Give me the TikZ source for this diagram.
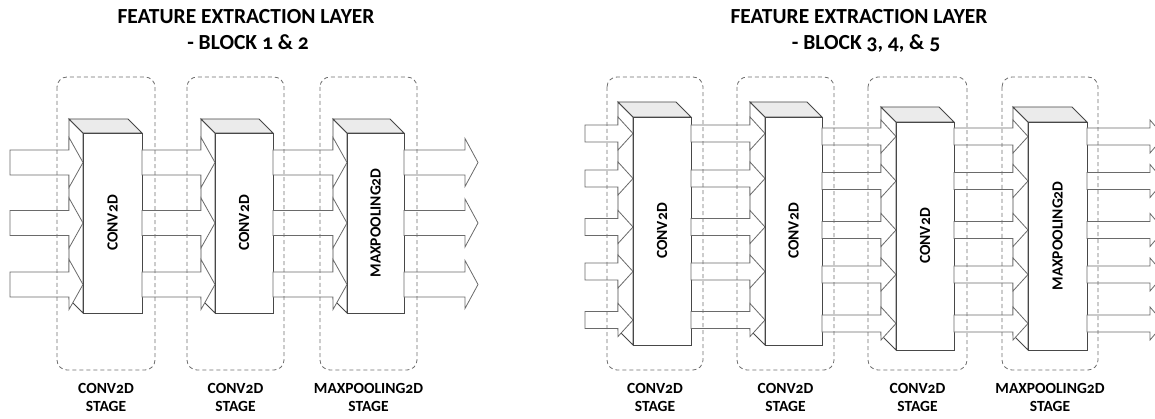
\documentclass[tikz,border=0pt]{standalone}
\usepackage{fontspec}
\setmainfont{Carlito}[Numbers=OldStyle]
\definecolor{edgegray}{HTML}{474747}
\definecolor{arrowgray}{HTML}{6A6A6A}
\definecolor{dashgray}{HTML}{6E6E6E}
\definecolor{topgray}{HTML}{EBEBEB}
\tikzset{
  blockedge/.style={draw=edgegray, line width=0.9pt, line join=miter},
  arrowline/.style={draw=arrowgray, fill=white, line width=0.8pt, line join=miter},
  stagebox/.style={draw=dashgray, dash pattern=on 4pt off 3pt, rounded corners=10pt, line width=0.8pt},
  blocklabel/.style={font=\bfseries\fontsize{15.5}{18}\selectfont, rotate=90, inner sep=0pt},
  stagelabel/.style={font=\bfseries\fontsize{15.5}{18.5}\selectfont, align=center, anchor=north, inner sep=0pt},
  titletext/.style={font=\bfseries\fontsize{21.5}{26}\selectfont, anchor=base, inner sep=0pt},
}
% back faces of a block: #1 front left x, #2 front right x, #3 top y, #4 bottom y, #5 depth
\newcommand\blockback[5]{%
  \draw[blockedge, fill=white] (#1-#5,#3-#5) -- (#1,#3) -- (#1,#4) -- (#1-#5,#4-#5) -- cycle;
  \draw[blockedge, fill=topgray] (#1-#5,#3-#5) -- (#2-#5,#3-#5) -- (#2,#3) -- (#1,#3) -- cycle;
}
% front face with its rotated label: #1..#4 as above, #5 text, #6 node name
\newcommand\blockfront[6]{%
  \draw[blockedge, fill=white] (#1,#3) rectangle (#2,#4);
  \node[blocklabel] (#6) at ({(#1+#2)/2},{(#3+#4)/2}) {#5};
}
% block arrow: #1 tail x, #2 head base x, #3 tip x, #4 centre y, #5 shaft half height, #6 head half height
\newcommand\flowarrow[6]{%
  \draw[arrowline] (#1,#4-#5) -- (#2,#4-#5) -- (#2,#4-#6) -- (#3,#4)
    -- (#2,#4+#6) -- (#2,#4+#5) -- (#1,#4+#5) -- cycle;
}
\begin{document}
\begin{tikzpicture}[x=1pt,y=-1pt]
\useasboundingbox (0,0) rectangle (1155,419);
\clip (0,0) rectangle (1155,419);

% ---------------- Block 1 & 2 ----------------
\node[titletext] (lt1) at (246,24) {FEATURE EXTRACTION LAYER};
\node[titletext] (lt2) at (248,50) {- BLOCK 1 \& 2};

\blockback{83}{142}{133}{313}{14}
\foreach \c in {162.5,223,284.5} {\flowarrow{10}{69}{83}{\c}{12.5}{25}}
\blockfront{83}{142}{133}{313}{CONV2D}{la}

\blockback{215}{273}{133}{313}{14}
\foreach \c in {162.5,223,284.5} {\flowarrow{142}{201}{215}{\c}{12.5}{25}}
\blockfront{215}{273}{133}{313}{CONV2D}{lb}

\blockback{347}{404}{133}{313}{14}
\foreach \c in {162.5,223,284.5} {\flowarrow{273}{333}{347}{\c}{12.5}{25}}
\blockfront{347}{404}{133}{313}{MAXPOOLING2D}{lc}

\foreach \c in {162.5,223,284.5} {\flowarrow{404}{465}{478}{\c}{12.5}{24}}

\draw[stagebox] (57,77) rectangle (155,370);
\draw[stagebox] (187,77) rectangle (284,370);
\draw[stagebox] (320,77) rectangle (417,370);

\node[stagelabel] (ls1) at (106,383) {CONV2D\\STAGE};
\node[stagelabel] (ls2) at (235.5,383) {CONV2D\\STAGE};
\node[stagelabel] (ls3) at (368.5,383) {MAXPOOLING2D\\STAGE};

% ---------------- Block 3, 4 & 5 ----------------
\node[titletext] (rt1) at (859,24) {FEATURE EXTRACTION LAYER};
\node[titletext] (rt2) at (866,50) {- BLOCK 3, 4, \& 5};

\blockback{633}{691}{117}{345}{15}
\foreach \c in {133.5,178.5,227,271.5,320} {\flowarrow{585}{618}{633}{\c}{8.5}{16.5}}
\blockfront{633}{691}{117}{345}{CONV2D}{ra}

\blockback{765}{822}{117}{345}{15}
\foreach \c in {133.5,178.5,227,271.5,320} {\flowarrow{691}{750}{765}{\c}{8.5}{16.5}}
\blockfront{765}{822}{117}{345}{CONV2D}{rb}

\blockback{896}{954}{122}{350}{15}
\foreach \c in {136.5,181,230,274.5,323.5} {\flowarrow{822}{881}{896}{\c}{8.5}{16.5}}
\blockfront{896}{954}{122}{350}{CONV2D}{rc}

\blockback{1028}{1087}{122}{350}{15}
\foreach \c in {136.5,181,230,274.5,323.5} {\flowarrow{954}{1013}{1028}{\c}{8.5}{16.5}}
\blockfront{1028}{1087}{122}{350}{MAXPOOLING2D}{rd}

\foreach \c in {136.5,181,230,274.5,323.5} {\flowarrow{1087}{1150}{1164}{\c}{8.5}{16.5}}

\draw[stagebox] (607,77) rectangle (703,370);
\draw[stagebox] (737,77) rectangle (834,370);
\draw[stagebox] (868,77) rectangle (967,370);
\draw[stagebox] (1002,77) rectangle (1098,370);

\node[stagelabel] (rs1) at (655,383) {CONV2D\\STAGE};
\node[stagelabel] (rs2) at (785.5,383) {CONV2D\\STAGE};
\node[stagelabel] (rs3) at (917.5,383) {CONV2D\\STAGE};
\node[stagelabel] (rs4) at (1050,383) {MAXPOOLING2D\\STAGE};
\end{tikzpicture}
\end{document}
